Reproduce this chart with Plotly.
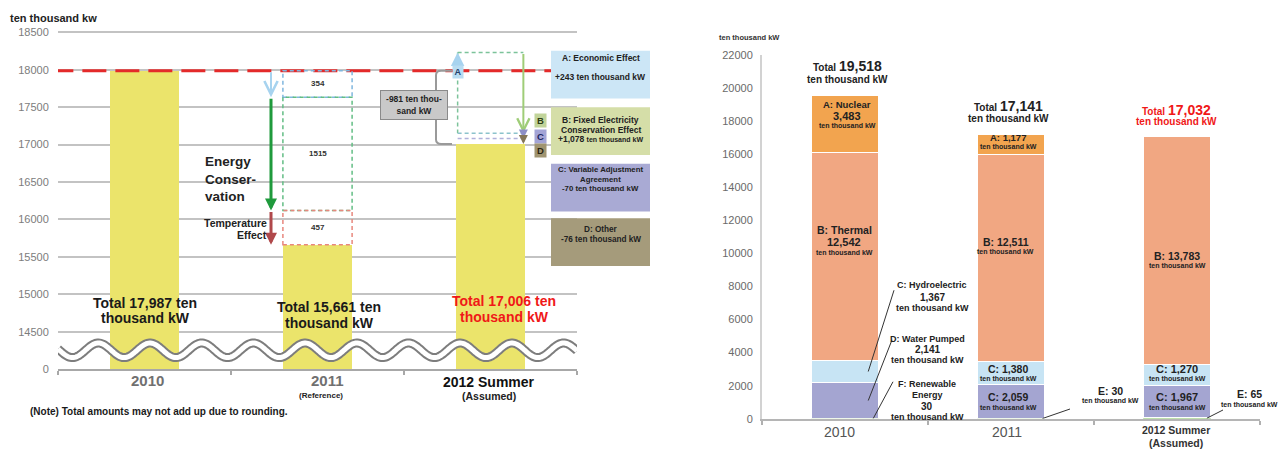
import numpy as np
import plotly.graph_objects as go

W, H = 1288, 452
FONT = "Liberation Sans, Arial, Helvetica, sans-serif"

# ---------------- Left panel: peak demand (ten thousand kW) ----------------
demand_years = ["2010", "2011", "2012 Summer"]
demand_notes = ["", "(Reference)", "(Assumed)"]
demand_totals = [17987, 15661, 17006]
demand_tickvals = [14000, 14500, 15000, 15500, 16000, 16500, 17000, 17500, 18000, 18500]
demand_ticktext = ["0", "14500", "15000", "15500", "16000", "16500", "17000", "17500", "18000", "18500"]

# 2011: drop from the 2010 peak (first part, energy conservation, temperature effect)
drop_2011 = [354, 1515, 457]

# 2012 summer: factors moving the 2010 peak
factor_keys = ["A", "B", "C", "D"]
factor_demand_change = [243, -1078, -70, -76]
factor_value_text = ["+243", "+1,078", "-70", "-76"]
net_change_2012 = -981

# ---------------- Right panel: supply capacity (ten thousand kW) ----------------
supply_years = ["2010", "2011", "2012 Summer"]
renewable = [30, 30, 65]
pumped = [2141, 2059, 1967]
hydro = [1367, 1380, 1270]
thermal = [12542, 12511, 13783]
nuclear = [3483, 1177, 0]
supply_totals = [19518, 17141, 17032]
supply_tickvals = [0, 2000, 4000, 6000, 8000, 10000, 12000, 14000, 16000, 18000, 20000, 22000]
supply_ticktext = ["0", "2000", "4000", "6000", "8000", "10000", "12000", "14000",
                   "16000", "18000", "20000", "22000"]

# ---------------- geometry of the two plot areas (pixels) ----------------
L_X0, L_X1, L_YB, L_YT = 58, 577, 373, 27          # left: 14000 at L_YB, 18500 at L_YT
L_PPU = (L_YB - L_YT) / 4500.0
L_TOP = 18525
R_X0, R_X1, R_YB, R_YT = 762, 1260, 424, 50         # right: 0 at R_YB, 22000 at R_YT
R_PPU = (R_YB - R_YT) / 22000.0


def lx(px):   # left x pixel -> category units
    return (px - L_X0) / ((L_X1 - L_X0) / 3) - 0.5


def rx(px):
    return (px - R_X0) / ((R_X1 - R_X0) / 3) - 0.5


def ry(py):
    return (R_YB - py) / R_PPU


fig = go.Figure()

xl = list(range(len(demand_years)))
fig.add_trace(go.Bar(x=xl, y=demand_totals, width=0.4,
                     marker=dict(color="#ebe46b", line=dict(width=0)),
                     xaxis="x", yaxis="y", showlegend=False, hoverinfo="skip"))

xr = list(range(len(supply_years)))
supply_series = [
    ("Renewable Energy", renewable, "#b9dca6"),
    ("Water Pumped", pumped, "#a4a5d1"),
    ("Hydroelectric", hydro, "#c7e4f4"),
    ("Thermal", thermal, "#f1a782"),
    ("Nuclear", nuclear, "#f2a44f"),
]
for name, vals, col in supply_series:
    edge = dict(color=col, width=1.5) if name == "Renewable Energy" else dict(color="white", width=1)
    fig.add_trace(go.Bar(x=xr, y=vals, width=0.4, name=name,
                         marker=dict(color=col, line=edge),
                         xaxis="x2", yaxis="y2", showlegend=False, hoverinfo="skip"))

shapes = []
ann = []


def paper(xpx, ypx):
    return xpx / W, 1 - ypx / H


def text(xpx, ypx, s, size, color="#222", bold=True, xanchor="center"):
    x, y = paper(xpx, ypx)
    ann.append(dict(x=x, y=y, xref="paper", yref="paper",
                    text=f"<b>{s}</b>" if bold else s, showarrow=False,
                    xanchor=xanchor, yanchor="middle",
                    font=dict(size=size, color=color, family=FONT)))


def arrow(x, y_from, y_to, color, width, head, size, xref="x", yref="y"):
    ann.append(dict(x=x, y=y_to, ax=x, ay=y_from, xref=xref, yref=yref,
                    axref=xref, ayref=yref, text="", showarrow=True,
                    arrowhead=head, arrowsize=size, arrowwidth=width,
                    arrowcolor=color))


def seg(x0, y0, x1, y1, color, width, dash="solid", xref="x", yref="y"):
    shapes.append(dict(type="line", x0=x0, y0=y0, x1=x1, y1=y1, xref=xref, yref=yref,
                       line=dict(color=color, width=width, dash=dash), layer="above"))


# ---- 2010 reference level (red dashed) ----
base = demand_totals[0]
seg(-0.55, base, lx(551), base, "#e42a2a", 3, "24px,9px")

# ---- 2011 breakdown ----
lv11 = [base]
for d in drop_2011:
    lv11.append(lv11[-1] - d)
box_cols = ["#7fb6de", "#62bd84", "#e8877d"]
arrow_cols = ["#a7d3ef", "#1f9a3c", "#b0484b"]
arrow_specs = [(2, 5, 1.3), (3, 2, 0.8), (3, 2, 0.8)]
ax11 = lx(271)
for k, d in enumerate(drop_2011):
    shapes.append(dict(type="rect", x0=1 - 0.2, x1=1 + 0.2, y0=lv11[k + 1], y1=lv11[k],
                       xref="x", yref="y", layer="above",
                       line=dict(color=box_cols[k], width=1.5, dash="4px,3px")))
    ann.append(dict(x=1, y=(lv11[k] + lv11[k + 1]) / 2, xref="x", yref="y",
                    text=f"<b>{d}</b>", showarrow=False,
                    font=dict(size=8, color="#333", family=FONT)))
    w, hd, sz = arrow_specs[k]
    arrow(ax11, lv11[k], lv11[k + 1], arrow_cols[k], w, hd, sz)

ann.append(dict(x=lx(203), y=16536, xref="x", yref="y", xanchor="left", align="left",
                text="<b>Energy<br>Conser-<br>vation</b>", showarrow=False,
                font=dict(size=13.5, color="#222", family=FONT)))
text(269, 223, "Temperature", 10.5, xanchor="right")
text(269, 235, "Effect", 10.5, xanchor="right")

# ---- 2012 factors ----
lv12 = [base]
for c in factor_demand_change:
    lv12.append(lv12[-1] + c)
xa, xb = 2 - 0.19, 2 + 0.19
seg(xa, lv12[1], xb, lv12[1], "#7cc39a", 1.5, "4px,3px")
seg(xa, lv12[1], xa, lv12[2], "#7cc39a", 1.5, "4px,3px")
seg(xa, lv12[2], xb, lv12[2], "#8cc3cc", 1.5, "4px,3px")
seg(xa, lv12[3], xb, lv12[3], "#b0b1da", 1.5, "4px,3px")
arrow(xa, lv12[0], lv12[1], "#a7d3ef", 3, 2, 0.9)
arrow(xb, lv12[1], lv12[2], "#9fcd78", 2, 5, 1.2)
arrow(xb, lv12[2], lv12[3], "#8e8fc6", 2, 2, 0.9)
arrow(xb, lv12[3], lv12[4], "#857657", 2, 2, 0.9)

# bracket for the net change
bx0, bx1 = lx(436), lx(452)
top, bot = lv12[0], lv12[4]
r_x, r_y = 0.03, 60
shapes.append(dict(type="path", xref="x", yref="y", layer="above",
                   path=(f"M {bx1},{top} L {bx0 + r_x},{top} Q {bx0},{top} {bx0},{top - r_y} "
                         f"L {bx0},{bot + r_y} Q {bx0},{bot} {bx0 + r_x},{bot} L {bx1},{bot}"),
                   line=dict(color="#9a9a9a", width=2)))
ann.append(dict(x=lx(414), y=17531, xref="x", yref="y",
                text=f"<b>{net_change_2012} ten thou-<br>sand kW</b>", showarrow=False,
                bgcolor="#c9c9c9", bordercolor="#8a8a8a", borderwidth=1, borderpad=2,
                width=62, height=24, font=dict(size=8.5, color="#222", family=FONT)))

# letter tags
ann.append(dict(x=xa, y=17967, xref="x", yref="y", text="<b>A</b>", showarrow=False,
                bgcolor="#b8dcf2", width=10, height=12, borderpad=0,
                font=dict(size=9, color="#23406a", family=FONT)))
tag_style = [("B", 110, "#c1d49a", "#2f3d14"), ("C", 126, "#a3a4d6", "#1e2460"),
             ("D", 141, "#a09470", "#2b2410")]
for key, ypx, bg, fg in tag_style:
    x, y = paper(540, ypx)
    ann.append(dict(x=x, y=y, xref="paper", yref="paper", text=f"<b>{key}</b>",
                    showarrow=False, bgcolor=bg, width=11, height=13, borderpad=0,
                    font=dict(size=9.5, color=fg, family=FONT)))

# factor boxes
boxes = [
    (46, 95, "#cce6f6", [(53, f"{factor_keys[0]}: Economic Effect", 8.5),
                         (73, f"{factor_value_text[0]} ten thousand kW", 8.5)]),
    (104, 153, "#d5dea8", [(117, f"{factor_keys[1]}: Fixed Electricity", 8.5),
                           (127, "Conservation Effect", 8.5),
                           (137, f"{factor_value_text[1]} <span style='font-size:7px'>ten thousand kW</span>", 8.5)]),
    (162, 211, "#a9aad4", [(168, f"{factor_keys[2]}: Variable Adjustment", 7.8),
                           (178, "Agreement", 7.8),
                           (187, f"{factor_value_text[2]} ten thousand kW", 7.8)]),
    (218, 267, "#a59b7b", [(230, f"{factor_keys[3]}: Other", 8.2),
                           (240, f"{factor_value_text[3]} ten thousand kW", 8.2)]),
]
for y0, y1, col, lines in boxes:
    shapes.append(dict(type="rect", xref="paper", yref="paper", layer="above",
                       x0=551 / W, x1=650 / W, y0=1 - y1 / H, y1=1 - y0 / H,
                       fillcolor=col, line=dict(width=0)))
    for ypx, s, sz in lines:
        text(600.5, ypx, s, sz)


# axis-break wave across the bottom of the left panel
def wave_path(x0, x1, yc, amp, period, x_peak, n=500):
    xs = np.linspace(x0, x1, n)
    ys = yc + amp * np.cos(2 * np.pi * (xs - x_peak) / period)
    return "M " + " L ".join(f"{a:.4f},{b:.2f}" for a, b in zip(xs, ys))


wp = wave_path(-0.5, 2.5, 14251, 7.5 / L_PPU, 51.7 / 173, lx(98.3))
shapes.append(dict(type="path", path=wp, xref="x", yref="y", layer="above",
                   line=dict(color="#7d7d7d", width=9)))
shapes.append(dict(type="path", path=wp, xref="x", yref="y", layer="above",
                   line=dict(color="white", width=5)))

# left texts
text(8, 12, "ten thousand kw", 11, xanchor="left")
tot_pos = [(145, 305, 321), (329, 309, 326), (504, 303, 319)]
for i, (xp, y1, y2) in enumerate(tot_pos):
    col = "#f01818" if i == 2 else "#1a1a1a"
    text(xp, y1, f"Total {demand_totals[i]:,} ten", 14, col)
    text(xp, y2, "thousand kW", 14, col)
text(147, 385, demand_years[0], 15, "#707070")
text(327, 385, demand_years[1], 15, "#707070")
text(321, 400, demand_notes[1], 8, "#222")
text(489, 386, demand_years[2], 14, "#111")
text(489, 401, demand_notes[2], 10.5, "#222")
text(28, 417, "(Note) Total amounts may not add up due to rounding.", 10, "#1a1a1a", xanchor="left")

# ---------------- right panel labels ----------------
text(749, 32, "ten thousand kW", 7.5, "#333")
tot_r = [(847, 62, 75), (1008, 103, 116), (1176, 107, 119)]
for i, (xp, y1, y2) in enumerate(tot_r):
    col = "#f01818" if i == 2 else "#222"
    text(xp, y1, f"Total <span style='font-size:14px'>{supply_totals[i]:,}</span>", 10, col)
    text(xp, y2, "ten thousand kW", 10, col)

small = "ten thousand kW"
seg_labels = [
    (847, [(101, "A: Nuclear", 9.5), (113, f"{nuclear[0]:,}", 11), (123, small, 7)]),
    (844, [(230, "B: Thermal", 10.5), (242, f"{thermal[0]:,}", 11), (253, small, 7)]),
    (1008, [(135, f"A: {nuclear[1]:,}", 9.5), (144, small, 7)]),
    (1006, [(242, f"B: {thermal[1]:,}", 10.5), (252, small, 7)]),
    (1008, [(373, f"C: {hydro[1]:,}", 10.5), (383, small, 7)]),
    (1008, [(402, f"C: {pumped[1]:,}", 10.5), (412, small, 7)]),
    (1177, [(257, f"B: {thermal[2]:,}", 10.5), (267, small, 7)]),
    (1177, [(373, f"C: {hydro[2]:,}", 11), (383, small, 7)]),
    (1177, [(402, f"C: {pumped[2]:,}", 11), (412, small, 7)]),
    (932, [(287, "C: Hydroelectric", 9), (299, f"{hydro[0]:,}", 10), (310, small, 9)]),
    (927, [(342, "D: Water Pumped", 9), (353, f"{pumped[0]:,}", 10), (364, small, 9)]),
    (927, [(388, "F: Renewable", 9), (400, "Energy", 9), (411, f"{renewable[0]}", 10), (422, small, 9)]),
    (1110, [(396, f"E: {renewable[1]}", 10.5), (405, small, 7)]),
    (1249, [(399, f"E: {renewable[2]}", 10.5), (409, small, 7)]),
]
for xp, lines in seg_labels:
    for ypx, s, sz in lines:
        text(xp, ypx, s, sz)

# leader lines from the thin segments to their labels
ren_mid = [v / 2 for v in renewable]
pump_mid = [renewable[i] + pumped[i] / 2 for i in range(3)]
hydro_mid = [renewable[i] + pumped[i] + hydro[i] / 2 for i in range(3)]
leaders = [
    (0.14, hydro_mid[0], rx(894), ry(292)),
    (0.14, pump_mid[0], rx(892), ry(343)),
    (0.17, ren_mid[0], rx(893), ry(386)),
    (1.19, ren_mid[1], rx(1070), ry(414)),
    (2.18, ren_mid[2], rx(1223), ry(415)),
]
for x0, y0, x1, y1 in leaders:
    seg(x0, y0, x1, y1, "#333", 1, xref="x2", yref="y2")

text(839, 438, supply_years[0], 14, "#555", bold=False)
text(1007, 438, supply_years[1], 14, "#555", bold=False)
text(1176, 436, supply_years[2], 10.5, "#333")
text(1176, 449, "(Assumed)", 10.5, "#333")

fig.update_layout(
    width=W, height=H, margin=dict(l=0, r=0, t=0, b=0),
    paper_bgcolor="white", plot_bgcolor="white",
    barmode="stack", showlegend=False,
    font=dict(family=FONT, color="#222"),
    xaxis=dict(domain=[L_X0 / W, L_X1 / W], range=[-0.5, 2.5],
               tickvals=[-0.5, 0.5, 1.5, 2.5], showticklabels=False,
               ticks="outside", ticklen=4, tickcolor="#a8a8a8", tickwidth=1.5,
               showline=True, linecolor="#a8a8a8", linewidth=2,
               showgrid=False, zeroline=False, anchor="y", fixedrange=True),
    yaxis=dict(domain=[1 - L_YB / H, 1 - (L_YT - (L_TOP - 18500) * L_PPU) / H],
               range=[14000, L_TOP], tickvals=demand_tickvals, ticktext=demand_ticktext,
               tickfont=dict(size=11, color="#7c7c7c", family=FONT),
               ticks="outside", ticklen=6, tickcolor="rgba(0,0,0,0)",
               showgrid=True, gridcolor="#c3c3c3", gridwidth=2,
               zeroline=False, showline=False, anchor="x", fixedrange=True),
    xaxis2=dict(domain=[R_X0 / W, R_X1 / W], range=[-0.5, 2.5],
                tickvals=[-0.5, 0.5, 1.5, 2.5], showticklabels=False,
                ticks="outside", ticklen=4, tickcolor="#b0b0b0", tickwidth=1.5,
                showline=True, linecolor="#b5b5b5", linewidth=2,
                showgrid=False, zeroline=False, anchor="y2", fixedrange=True),
    yaxis2=dict(domain=[1 - R_YB / H, 1 - R_YT / H], range=[0, 22000],
                tickvals=supply_tickvals, ticktext=supply_ticktext,
                tickfont=dict(size=11, color="#6a6a6a", family=FONT),
                ticks="outside", ticklen=5, tickcolor="rgba(0,0,0,0)",
                showline=True, linecolor="#d2d2d2", linewidth=2,
                showgrid=False, zeroline=False, anchor="x2", fixedrange=True),
    shapes=shapes, annotations=ann,
)

fig.write_html("out.html")
